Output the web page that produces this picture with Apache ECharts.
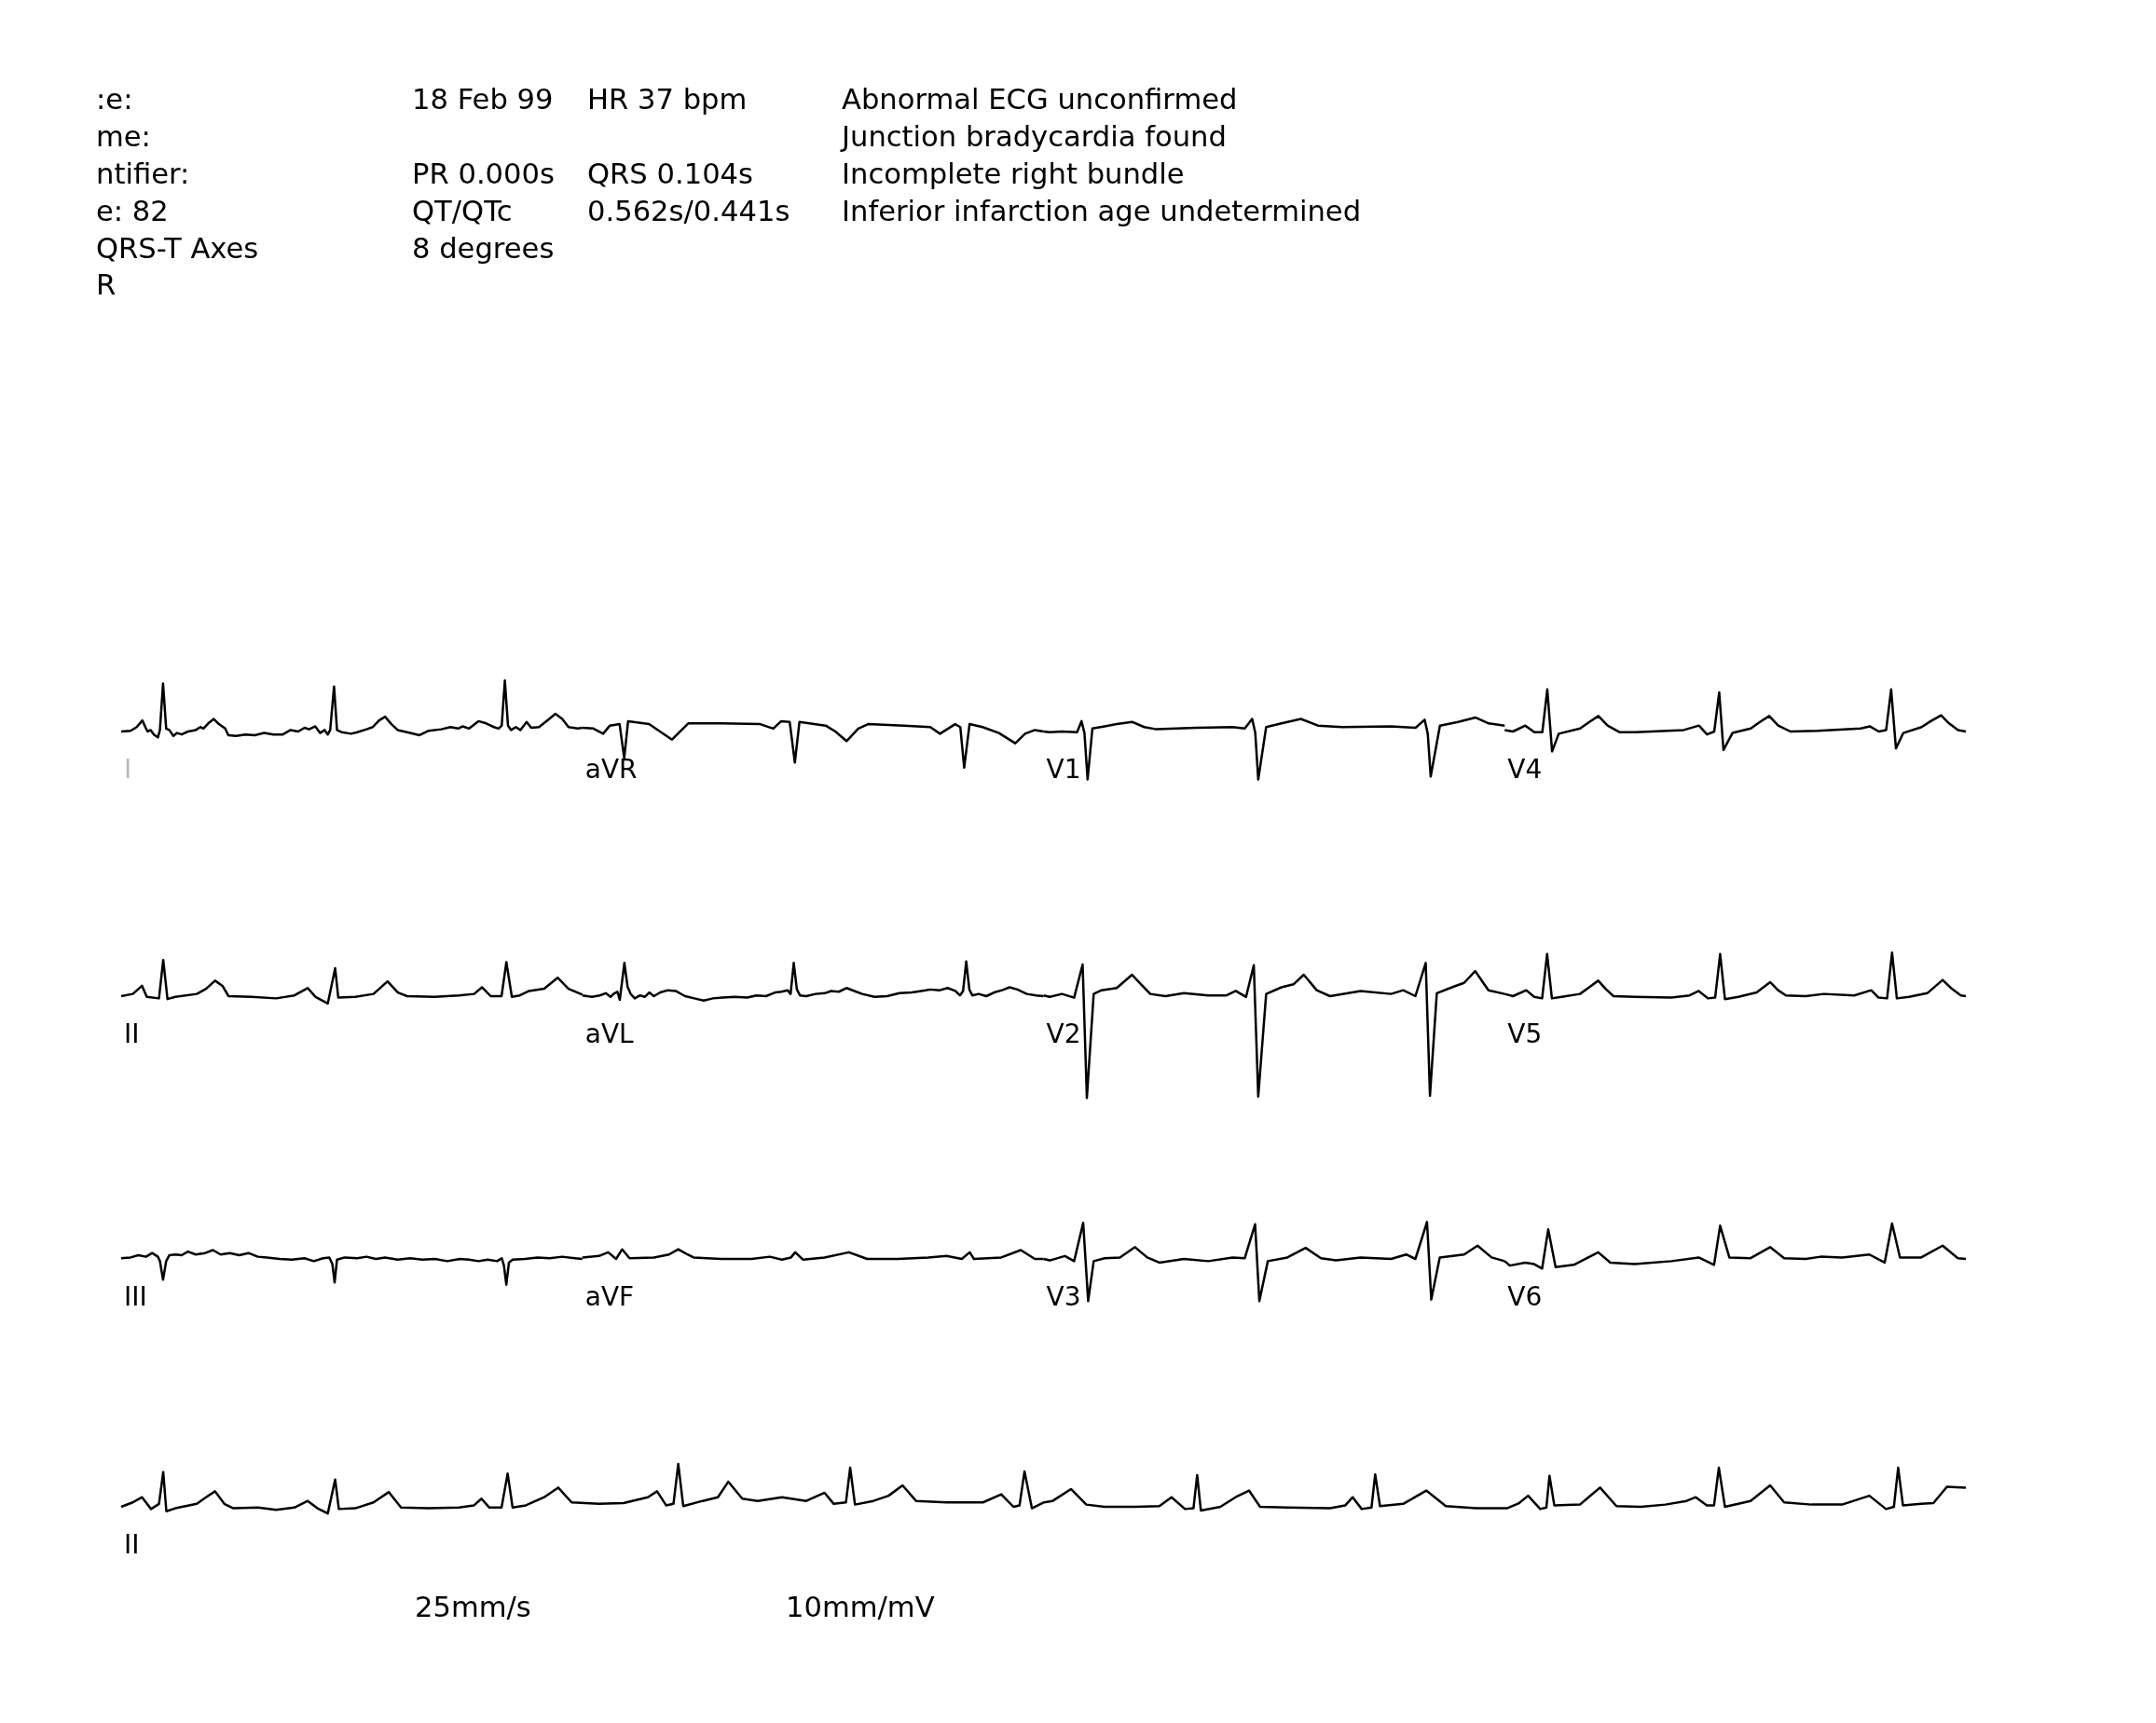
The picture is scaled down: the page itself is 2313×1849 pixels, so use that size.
<!DOCTYPE html>
<html>
<head>
<meta charset="utf-8">
<script src="https://cdn.jsdelivr.net/npm/echarts@6/dist/echarts.min.js"></script>
<style>html,body{margin:0;padding:0;background:#fff;}#chart{width:2313px;height:1849px;}</style>
</head>
<body>
<div id="chart"></div>
<script>
// Header text (columns as printed)
const hdrCol1 = [':e:', 'me:', 'ntifier:', 'e: 82', 'QRS-T Axes', 'R'];
const hdrCol2 = ['18 Feb 99', '', 'PR 0.000s', 'QT/QTc', '8 degrees', ''];
const hdrCol3 = ['HR 37 bpm', '', 'QRS 0.104s', '0.562s/0.441s', '', ''];
const hdrCol4 = ['Abnormal ECG unconfirmed', 'Junction bradycardia found', 'Incomplete right bundle', 'Inferior infarction age undetermined', '', ''];
const footerText = ['25mm/s', '10mm/mV'];

// Lead layout
const rowLeads = [
  ['I', 'aVR', 'V1', 'V4'],
  ['II', 'aVL', 'V2', 'V5'],
  ['III', 'aVF', 'V3', 'V6'],
  ['II']
];

// Traces: [time (s), amplitude (mV)]
const leadI = [[0,0],[0.051,0.01],[0.084,0.06],[0.115,0.15],[0.131,0.06],[0.143,0],[0.16,0.02],[0.177,-0.04],[0.199,-0.08],[0.21,0.02],[0.227,0.65],[0.244,0.04],[0.261,0.02],[0.283,-0.06],[0.303,-0.02],[0.328,-0.04],[0.362,0],[0.404,0.02],[0.429,0.06],[0.446,0.04],[0.472,0.11],[0.502,0.17],[0.53,0.10],[0.564,0.04],[0.581,-0.05],[0.623,-0.06],[0.674,-0.04],[0.724,-0.05],[0.775,-0.02],[0.825,-0.04],[0.876,-0.04],[0.918,0.02],[0.96,0],[0.994,0.05],[1.019,0.03],[1.052,0.07],[1.078,-0.02],[1.103,0.02],[1.12,-0.04],[1.133,0.02],[1.154,0.61],[1.17,0.02],[1.196,-0.01],[1.246,-0.03],[1.28,-0.01],[1.33,0.03],[1.364,0.06],[1.398,0.15],[1.431,0.20],[1.465,0.10],[1.499,0.02],[1.566,-0.02],[1.617,-0.05],[1.667,0.01],[1.735,0.03],[1.785,0.06],[1.827,0.04],[1.852,0.07],[1.886,0.04],[1.937,0.14],[1.979,0.11],[2.021,0.06],[2.046,0.04],[2.063,0.08],[2.08,0.69],[2.097,0.08],[2.114,0.02],[2.139,0.06],[2.164,0.02],[2.198,0.13],[2.223,0.05],[2.265,0.06],[2.316,0.16],[2.354,0.24],[2.391,0.17],[2.425,0.06],[2.475,0.04],[2.5,0.05]];
const leadAVR = [[2.5,0.05],[2.56,0.04],[2.613,-0.03],[2.649,0.08],[2.702,0.10],[2.727,-0.36],[2.748,0.14],[2.862,0.10],[2.932,-0.02],[2.986,-0.11],[3.074,0.11],[3.252,0.11],[3.464,0.10],[3.535,0.04],[3.578,0.14],[3.624,0.13],[3.652,-0.42],[3.677,0.13],[3.819,0.08],[3.872,0],[3.932,-0.13],[3.996,0.04],[4.049,0.10],[4.244,0.08],[4.386,0.06],[4.439,-0.03],[4.521,0.10],[4.549,0.06],[4.57,-0.49],[4.599,0.10],[4.67,0.06],[4.758,-0.02],[4.847,-0.16],[4.9,-0.03],[4.953,0.02],[5.0,0]];
const leadV1 = [[5.0,0],[5.034,-0.01],[5.1,0],[5.182,-0.01],[5.206,0.14],[5.222,-0.02],[5.239,-0.65],[5.265,0.04],[5.331,0.07],[5.397,0.10],[5.48,0.13],[5.546,0.06],[5.612,0.03],[5.827,0.05],[6.025,0.06],[6.091,0.04],[6.131,0.17],[6.148,-0.02],[6.164,-0.65],[6.207,0.06],[6.29,0.11],[6.395,0.17],[6.488,0.08],[6.62,0.06],[6.884,0.07],[7.017,0.05],[7.066,0.16],[7.083,-0.03],[7.099,-0.61],[7.149,0.08],[7.248,0.13],[7.341,0.19],[7.413,0.11],[7.5,0.08]];
const leadV4 = [[7.5,0.02],[7.545,0],[7.612,0.08],[7.661,-0.01],[7.704,-0.01],[7.731,0.57],[7.757,-0.27],[7.793,-0.03],[7.909,0.04],[7.959,0.13],[8.008,0.21],[8.058,0.08],[8.124,-0.01],[8.207,-0.01],[8.471,0.02],[8.553,0.08],[8.597,-0.04],[8.636,0],[8.663,0.53],[8.686,-0.25],[8.735,-0.02],[8.834,0.04],[8.884,0.13],[8.934,0.21],[8.983,0.08],[9.049,0],[9.198,0.01],[9.43,0.04],[9.479,0.07],[9.528,0],[9.568,0.02],[9.595,0.57],[9.621,-0.23],[9.661,-0.02],[9.76,0.06],[9.81,0.14],[9.866,0.22],[9.909,0.11],[9.958,0.02],[10.0,0]];

const leadII = [[0,0],[0.063,0.03],[0.113,0.14],[0.139,-0.01],[0.205,-0.03],[0.228,0.49],[0.251,-0.04],[0.294,-0.01],[0.410,0.03],[0.460,0.10],[0.509,0.21],[0.549,0.14],[0.582,0],[0.707,-0.01],[0.840,-0.03],[0.939,0.01],[1.011,0.11],[1.054,-0.01],[1.12,-0.10],[1.160,0.38],[1.177,-0.02],[1.269,-0.01],[1.368,0.03],[1.444,0.20],[1.5,0.05],[1.550,0],[1.699,-0.01],[1.831,0.01],[1.913,0.03],[1.956,0.12],[2.003,0],[2.062,0],[2.088,0.46],[2.118,-0.01],[2.161,0.01],[2.211,0.07],[2.293,0.10],[2.366,0.25],[2.425,0.10],[2.491,0.03],[2.5,0.02]];
const leadAVL = [[2.5,0.01],[2.552,-0.01],[2.594,0.01],[2.627,0.04],[2.653,-0.01],[2.669,0.03],[2.69,0.06],[2.703,-0.05],[2.728,0.45],[2.745,0.13],[2.762,0.03],[2.784,-0.03],[2.813,0.01],[2.838,-0.01],[2.863,0.05],[2.888,0],[2.922,0.05],[2.964,0.08],[3.006,0.07],[3.057,0],[3.107,-0.03],[3.158,-0.06],[3.208,-0.03],[3.259,-0.02],[3.326,-0.01],[3.394,-0.02],[3.444,0.01],[3.495,0],[3.545,0.05],[3.579,0.06],[3.612,0.08],[3.629,0.03],[3.646,0.45],[3.663,0.09],[3.68,0.01],[3.714,0],[3.764,0.03],[3.815,0.04],[3.848,0.07],[3.89,0.06],[3.932,0.11],[3.975,0.07],[4.017,0.03],[4.084,-0.01],[4.152,0],[4.219,0.04],[4.286,0.05],[4.337,0.07],[4.387,0.09],[4.438,0.08],[4.48,0.11],[4.522,0.07],[4.547,0.01],[4.564,0.07],[4.581,0.47],[4.598,0.09],[4.614,0.01],[4.648,0.03],[4.69,0],[4.732,0.05],[4.775,0.08],[4.816,0.12],[4.859,0.09],[4.909,0.03],[4.96,0.01],[5.0,0]];
const leadV2 = [[5.0,0.01],[5.034,-0.01],[5.1,0.03],[5.166,-0.02],[5.212,0.43],[5.235,-1.38],[5.272,0.03],[5.314,0.08],[5.397,0.11],[5.48,0.29],[5.529,0.16],[5.579,0.03],[5.661,0],[5.761,0.04],[5.893,0.01],[5.992,0.01],[6.042,0.07],[6.098,-0.01],[6.14,0.42],[6.164,-1.36],[6.207,0.03],[6.29,0.12],[6.355,0.16],[6.411,0.29],[6.481,0.08],[6.553,0],[6.719,0.07],[6.884,0.03],[6.95,0.08],[7.016,0],[7.072,0.45],[7.095,-1.35],[7.132,0.04],[7.214,0.12],[7.28,0.18],[7.34,0.34],[7.412,0.08],[7.5,0.03]];
const leadV5 = [[7.5,0.03],[7.545,0],[7.617,0.08],[7.66,-0.01],[7.703,-0.03],[7.73,0.57],[7.756,-0.03],[7.809,-0.01],[7.908,0.03],[7.958,0.12],[8.007,0.21],[8.047,0.10],[8.09,0],[8.205,-0.01],[8.404,-0.02],[8.503,0.01],[8.552,0.07],[8.602,-0.03],[8.641,-0.02],[8.668,0.57],[8.694,-0.04],[8.767,-0.01],[8.866,0.05],[8.939,0.19],[8.982,0.08],[9.025,0.01],[9.131,0],[9.23,0.03],[9.395,0.01],[9.487,0.08],[9.527,-0.02],[9.573,-0.03],[9.6,0.59],[9.626,-0.03],[9.692,-0.01],[9.791,0.04],[9.874,0.22],[9.924,0.10],[9.973,0.01],[10.0,0]];

const leadIII = [[0,0.01],[0.051,0.02],[0.093,0.05],[0.135,0.03],[0.168,0.08],[0.199,0.03],[0.21,-0.03],[0.227,-0.28],[0.244,-0.03],[0.261,0.05],[0.295,0.06],[0.328,0.05],[0.362,0.10],[0.404,0.06],[0.455,0.08],[0.497,0.12],[0.539,0.06],[0.589,0.08],[0.64,0.05],[0.69,0.08],[0.741,0.03],[0.791,0.02],[0.859,0],[0.926,-0.01],[0.994,0.01],[1.044,-0.03],[1.095,0.01],[1.128,0.02],[1.145,-0.07],[1.157,-0.32],[1.17,-0.01],[1.212,0.02],[1.28,0.01],[1.33,0.03],[1.381,0],[1.431,0.02],[1.499,-0.01],[1.566,0.01],[1.633,-0.01],[1.701,0],[1.768,-0.03],[1.836,0],[1.886,-0.01],[1.937,-0.03],[1.987,-0.01],[2.038,-0.03],[2.063,0.01],[2.075,-0.09],[2.088,-0.35],[2.102,-0.05],[2.122,-0.01],[2.189,0],[2.257,0.02],[2.324,0.01],[2.391,0.03],[2.459,0.01],[2.5,0]];
const leadAVF = [[2.5,0.02],[2.59,0.04],[2.64,0.09],[2.683,0],[2.716,0.13],[2.756,0.01],[2.888,0.02],[2.97,0.06],[3.02,0.13],[3.07,0.06],[3.103,0.02],[3.252,0],[3.417,0],[3.516,0.03],[3.582,-0.01],[3.631,0.02],[3.654,0.09],[3.697,-0.01],[3.813,0.02],[3.945,0.09],[4.044,0],[4.209,0],[4.375,0.02],[4.474,0.04],[4.557,0],[4.6,0.09],[4.623,0],[4.771,0.02],[4.877,0.12],[4.953,0],[5.0,0]];
const leadV3 = [[5.0,0],[5.034,-0.02],[5.116,0.04],[5.166,-0.03],[5.215,0.49],[5.242,-0.57],[5.272,-0.03],[5.331,0.01],[5.414,0.02],[5.496,0.16],[5.562,0.02],[5.628,-0.05],[5.761,0],[5.893,-0.03],[6.025,0.02],[6.091,0.01],[6.147,0.47],[6.17,-0.57],[6.216,-0.03],[6.322,0.02],[6.421,0.15],[6.504,0.01],[6.586,-0.02],[6.719,0.02],[6.884,0],[6.966,0.06],[7.016,0],[7.079,0.50],[7.102,-0.55],[7.148,0.02],[7.28,0.06],[7.353,0.18],[7.429,0.02],[7.5,-0.03]];
const leadV6 = [[7.5,-0.03],[7.528,-0.09],[7.611,-0.05],[7.66,-0.07],[7.703,-0.13],[7.736,0.40],[7.776,-0.11],[7.875,-0.08],[8.007,0.09],[8.073,-0.05],[8.205,-0.07],[8.404,-0.03],[8.552,0.02],[8.635,-0.08],[8.668,0.45],[8.718,0.02],[8.833,0.01],[8.939,0.16],[9.015,0.01],[9.131,0],[9.213,0.03],[9.329,0.02],[9.477,0.06],[9.56,-0.05],[9.6,0.48],[9.643,0.02],[9.758,0.02],[9.874,0.18],[9.957,0.01],[10.0,0]];

const rhythmII = [[0,0],[0.063,0.06],[0.113,0.13],[0.162,-0.03],[0.205,0.04],[0.228,0.47],[0.245,-0.06],[0.294,-0.02],[0.410,0.04],[0.460,0.13],[0.509,0.21],[0.559,0.04],[0.608,-0.02],[0.741,-0.01],[0.840,-0.04],[0.939,-0.01],[1.011,0.08],[1.064,-0.02],[1.12,-0.09],[1.16,0.37],[1.18,-0.03],[1.269,-0.02],[1.368,0.06],[1.451,0.20],[1.517,-0.01],[1.666,-0.02],[1.831,-0.01],[1.913,0.02],[1.953,0.11],[1.996,-0.01],[2.062,-0.01],[2.095,0.45],[2.122,-0.01],[2.194,0.02],[2.293,0.13],[2.369,0.26],[2.442,0.06],[2.59,0.04],[2.723,0.05],[2.855,0.13],[2.905,0.21],[2.954,0.02],[2.994,0.04],[3.02,0.58],[3.047,0.01],[3.152,0.08],[3.235,0.13],[3.291,0.34],[3.367,0.11],[3.45,0.08],[3.582,0.13],[3.714,0.08],[3.813,0.19],[3.863,0.04],[3.929,0.06],[3.952,0.53],[3.978,0.03],[4.078,0.08],[4.16,0.15],[4.236,0.29],[4.309,0.08],[4.474,0.06],[4.672,0.06],[4.771,0.17],[4.837,0],[4.87,0.02],[4.897,0.48],[4.937,-0.02],[5.003,0.06],[5.05,0.08],[5.149,0.24],[5.232,0.03],[5.331,0],[5.496,0],[5.628,0.01],[5.694,0.13],[5.767,-0.03],[5.813,-0.02],[5.833,0.43],[5.853,-0.05],[5.959,0],[6.041,0.13],[6.114,0.22],[6.174,0],[6.322,-0.01],[6.553,-0.02],[6.636,0.02],[6.676,0.13],[6.725,-0.03],[6.778,-0.01],[6.798,0.44],[6.824,0.01],[6.95,0.04],[7.075,0.22],[7.181,0.01],[7.346,-0.02],[7.512,-0.02],[7.578,0.05],[7.627,0.15],[7.693,-0.03],[7.726,-0.01],[7.743,0.42],[7.769,0.02],[7.908,0.03],[7.974,0.17],[8.017,0.26],[8.106,0.01],[8.238,0],[8.371,0.03],[8.486,0.08],[8.536,0.13],[8.596,0.02],[8.635,0.02],[8.661,0.53],[8.694,0],[8.833,0.08],[8.939,0.29],[9.015,0.06],[9.164,0.03],[9.329,0.03],[9.477,0.15],[9.567,-0.03],[9.61,0],[9.633,0.53],[9.659,0.02],[9.758,0.04],[9.824,0.05],[9.884,0.23],[9.897,0.27],[10.0,0.26]];

const rowTraces = [
  [leadI, leadAVR, leadV1, leadV4],
  [leadII, leadAVL, leadV2, leadV5],
  [leadIII, leadAVF, leadV3, leadV6],
  [rhythmII]
];

// ---------- layout ----------
const HDR_FONT = '30.6px "DejaVu Sans"';
const LBL_FONT = '28px "DejaVu Sans"';
const plotLeft = 130, plotWidth = 1979;   // 10 s
const pxPerMv = 79.2;
const yHalf = 1.5;
const baselines = [785, 1069, 1351, 1617];
const hdrX = [103, 442, 630, 903];
const hdrY = [109, 149, 189, 229, 269, 308];

const grids = [], xAxes = [], yAxes = [], series = [], graphics = [];
baselines.forEach((b, r) => {
  grids.push({left: plotLeft, width: plotWidth, top: b - yHalf * pxPerMv, height: 2 * yHalf * pxPerMv});
  xAxes.push({type: 'value', gridIndex: r, min: 0, max: 10, show: false});
  yAxes.push({type: 'value', gridIndex: r, min: -yHalf, max: yHalf, show: false});
  rowTraces[r].forEach((d, i) => {
    series.push({
      type: 'line', name: rowLeads[r][i], xAxisIndex: r, yAxisIndex: r, data: d,
      showSymbol: false, symbol: 'none', silent: true,
      lineStyle: {color: '#000', width: 2.5, join: 'round'}
    });
    graphics.push({
      type: 'text', x: plotLeft + 3 + i * plotWidth / 4, y: b + 43,
      style: {text: rowLeads[r][i], font: LBL_FONT, fill: (r === 0 && i === 0) ? '#bbb' : '#000', textVerticalAlign: 'middle'}
    });
  });
});

[hdrCol1, hdrCol2, hdrCol3, hdrCol4].forEach((col, c) => {
  col.forEach((t, k) => {
    if (!t) return;
    graphics.push({type: 'text', x: hdrX[c], y: hdrY[k], style: {text: t, font: HDR_FONT, fill: '#000', textVerticalAlign: 'middle'}});
  });
});
graphics.push({type: 'text', x: 445, y: 1727, style: {text: footerText[0], font: HDR_FONT, fill: '#000', textVerticalAlign: 'middle'}});
graphics.push({type: 'text', x: 843, y: 1727, style: {text: footerText[1], font: HDR_FONT, fill: '#000', textVerticalAlign: 'middle'}});

const chart = echarts.init(document.getElementById('chart'), null, {renderer: 'canvas'});
chart.setOption({
  backgroundColor: '#fff',
  animation: false,
  grid: grids, xAxis: xAxes, yAxis: yAxes,
  series: series,
  graphic: graphics
});
</script>
</body>
</html>
